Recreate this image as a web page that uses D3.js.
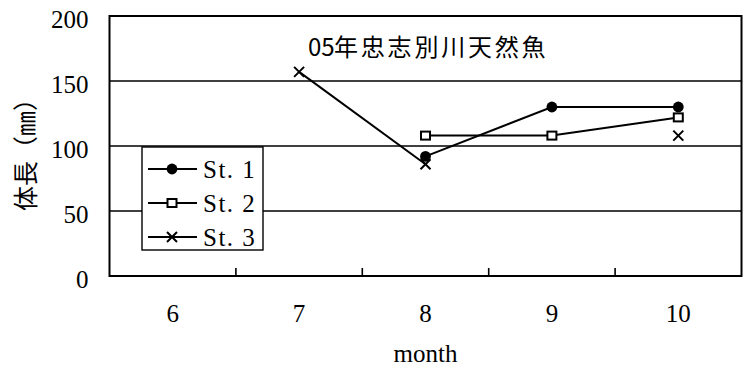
<!DOCTYPE html>
<html>
<head>
<meta charset="utf-8">
<script src="https://cdn.jsdelivr.net/npm/d3@7"></script>
<style>
  html, body { margin: 0; padding: 0; background: #fff; }
  svg { display: block; }
</style>
</head>
<body>
<svg id="chart" width="749" height="369"></svg>
<script>
// Body length of wild fish by month and station
const months = ["6", "7", "8", "9", "10"];
const st1 = [null, null, 92, 130, 130];
const st2 = [null, null, 108, 108, 122];
const st3 = [null, 157, 86, null, 108];
const seriesNames = ["St. 1", "St. 2", "St. 3"];
const yTicks = [0, 50, 100, 150, 200];
const gridValues = [50, 100, 150];
const titleNum = "05";
const titleText = "年忠志別川天然魚";
const yLabel = "体長（㎜）";
const xLabel = "month";

const serifFont = "'Liberation Serif', 'DejaVu Serif', serif";
const cjkFont = "'Noto Sans CJK JP', 'Noto Sans', sans-serif";

const svg = d3.select("#chart");
const plot = { left: 109.5, right: 741.5, top: 16, bottom: 276 };

const x = d3.scaleBand().domain(months).range([plot.left, plot.right]);
const y = d3.scaleLinear().domain([0, 200]).range([plot.bottom, plot.top]);
const cx = m => x(m) + x.bandwidth() / 2;

// gridlines
svg.append("g").selectAll("line").data(gridValues).join("line")
  .attr("x1", plot.left).attr("x2", plot.right)
  .attr("y1", d => y(d)).attr("y2", d => y(d))
  .attr("stroke", "#000").attr("stroke-width", 1.6);

// plot frame
svg.append("rect")
  .attr("x", plot.left).attr("y", plot.top)
  .attr("width", plot.right - plot.left).attr("height", plot.bottom - plot.top)
  .attr("fill", "none").attr("stroke", "#000").attr("stroke-width", 2);

// inward tick marks between month bands
svg.append("g").selectAll("line").data(months.slice(1)).join("line")
  .attr("x1", d => x(d)).attr("x2", d => x(d))
  .attr("y1", plot.bottom).attr("y2", plot.bottom - 8)
  .attr("stroke", "#000").attr("stroke-width", 1.6);

// y axis labels
const yAxis = svg.append("g")
  .attr("transform", `translate(${plot.left},0)`)
  .call(d3.axisLeft(y).tickValues(yTicks).tickSize(0).tickPadding(21));
yAxis.select(".domain").remove();
yAxis.selectAll("text")
  .attr("dy", "0.46em")
  .attr("font-family", serifFont).attr("font-size", 25).attr("fill", "#000");

// x axis labels
const xAxis = svg.append("g")
  .attr("transform", `translate(0,${plot.bottom})`)
  .call(d3.axisBottom(x).tickSize(0));
xAxis.select(".domain").remove();
xAxis.selectAll("text")
  .attr("y", 46).attr("dy", 0)
  .attr("font-family", serifFont).attr("font-size", 25).attr("fill", "#000");

// axis titles
svg.append("text")
  .attr("x", (plot.left + plot.right) / 2).attr("y", 362)
  .attr("text-anchor", "middle")
  .attr("font-family", serifFont).attr("font-size", 25)
  .text(xLabel);

svg.append("text")
  .attr("transform", "translate(23.5,148.5) rotate(-90)")
  .attr("text-anchor", "middle").attr("dominant-baseline", "central")
  .attr("font-family", cjkFont).attr("font-size", 25)
  .text(yLabel);

// chart title
const title = svg.append("text")
  .attr("x", 308).attr("y", 56)
  .attr("font-family", cjkFont).attr("font-size", 24);
title.append("tspan").text(titleNum);
title.append("tspan").attr("x", 334).attr("letter-spacing", 2.8).text(titleText);

// series
const seriesData = [st1, st2, st3];
const line = d3.line()
  .defined(d => d.v != null)
  .x(d => cx(d.m))
  .y(d => y(d.v));

function drawMarker(g, kind, px, py) {
  if (kind === 0) {
    g.append("circle").attr("cx", px).attr("cy", py).attr("r", 5.4).attr("fill", "#000");
  } else if (kind === 1) {
    g.append("rect").attr("x", px - 4.5).attr("y", py - 4).attr("width", 9).attr("height", 8)
      .attr("fill", "#fff").attr("stroke", "#000").attr("stroke-width", 2);
  } else {
    const s = 5;
    g.append("path")
      .attr("d", `M${px - s},${py - s}L${px + s},${py + s}M${px - s},${py + s}L${px + s},${py - s}`)
      .attr("stroke", "#000").attr("stroke-width", 2).attr("fill", "none");
  }
}

seriesData.forEach((vals, k) => {
  const pts = months.map((m, i) => ({ m, v: vals[i] }));
  const g = svg.append("g");
  g.append("path").attr("d", line(pts))
    .attr("fill", "none").attr("stroke", "#000").attr("stroke-width", 2);
  pts.filter(d => d.v != null).forEach(d => drawMarker(g, k, cx(d.m), y(d.v)));
});

// legend
const legend = svg.append("g");
legend.append("rect")
  .attr("x", 142).attr("y", 147).attr("width", 121).attr("height", 103)
  .attr("fill", "#fff").attr("stroke", "#000").attr("stroke-width", 1.4);
seriesNames.forEach((name, k) => {
  const ly = 169 + k * 34;
  legend.append("line").attr("x1", 148).attr("x2", 197).attr("y1", ly).attr("y2", ly)
    .attr("stroke", "#000").attr("stroke-width", 2);
  drawMarker(legend, k, 172, ly);
  legend.append("text")
    .attr("x", 203).attr("y", ly + 8.5)
    .attr("font-family", serifFont).attr("font-size", 25).attr("letter-spacing", 1.5)
    .text(name);
});
</script>
</body>
</html>
